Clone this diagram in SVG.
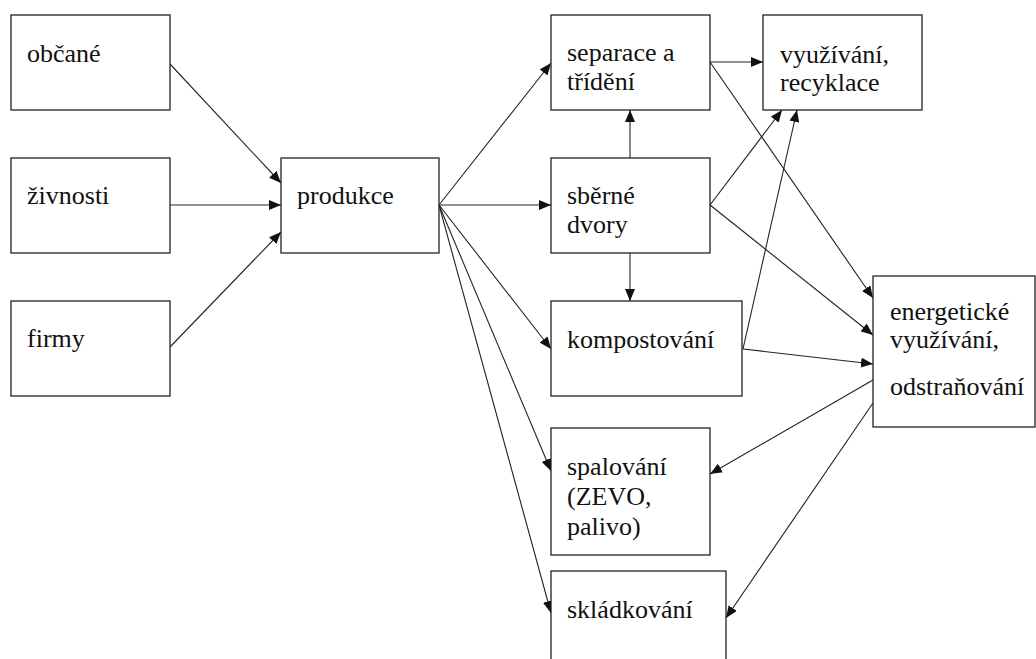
<svg xmlns="http://www.w3.org/2000/svg" width="1036" height="659" viewBox="0 0 1036 659">
<style>
.box{fill:#fff;stroke:#222;stroke-width:1.3}
.t{font-family:'Liberation Serif','Times New Roman',serif;font-size:26px;fill:#111}
.c{fill:none;stroke:#222;stroke-width:1.1;marker-end:url(#ah)}
</style>
<defs>
<marker id="ah" markerUnits="userSpaceOnUse" markerWidth="12" markerHeight="10" refX="12" refY="5" orient="auto">
<path d="M0,0 L12,5 L0,10 z" fill="#111"/>
</marker>
</defs>
<rect width="1036" height="659" fill="#fff"/>
<g id="connectors">
<line class="c" x1="170" y1="64" x2="281" y2="183"/>
<line class="c" x1="170" y1="205" x2="281" y2="205"/>
<line class="c" x1="170" y1="347" x2="281" y2="232"/>
<line class="c" x1="439" y1="205" x2="551" y2="63"/>
<line class="c" x1="439" y1="205" x2="551" y2="205"/>
<line class="c" x1="439" y1="205" x2="551" y2="349"/>
<line class="c" x1="439" y1="205" x2="551" y2="471"/>
<line class="c" x1="439" y1="205" x2="551" y2="613"/>
<line class="c" x1="630" y1="158" x2="630" y2="110"/>
<line class="c" x1="630" y1="253" x2="630" y2="301"/>
<line class="c" x1="710" y1="62" x2="763" y2="62"/>
<line class="c" x1="710" y1="62" x2="873" y2="298"/>
<line class="c" x1="710" y1="205" x2="782" y2="110"/>
<line class="c" x1="710" y1="205" x2="873" y2="335"/>
<line class="c" x1="743" y1="349" x2="797" y2="110"/>
<line class="c" x1="743" y1="349" x2="873" y2="364"/>
<line class="c" x1="873" y1="380" x2="710" y2="474"/>
<line class="c" x1="873" y1="403" x2="726" y2="618"/>
</g>
<g id="obcane"><rect class="box" x="11" y="15" width="159" height="95"/><text class="t" x="27" y="62">občané</text></g>
<g id="zivnosti"><rect class="box" x="11" y="158" width="159" height="95"/><text class="t" x="27" y="204">živnosti</text></g>
<g id="firmy"><rect class="box" x="11" y="301" width="159" height="95"/><text class="t" x="27" y="347">firmy</text></g>
<g id="produkce"><rect class="box" x="281" y="158" width="158" height="95"/><text class="t" x="297" y="204">produkce</text></g>
<g id="separace"><rect class="box" x="551" y="15" width="159" height="95"/><text class="t" x="567" y="61">separace a</text><text class="t" x="567" y="90">třídění</text></g>
<g id="sberne"><rect class="box" x="551" y="158" width="159" height="95"/><text class="t" x="567" y="204">sběrné</text><text class="t" x="567" y="233">dvory</text></g>
<g id="kompostovani"><rect class="box" x="551" y="301" width="191" height="95"/><text class="t" x="567" y="348">kompostování</text></g>
<g id="spalovani"><rect class="box" x="551" y="428" width="159" height="127"/><text class="t" x="567" y="475">spalování</text><text class="t" x="567" y="505">(ZEVO,</text><text class="t" x="567" y="535">palivo)</text></g>
<g id="skladkovani"><rect class="box" x="551" y="571" width="175" height="95"/><text class="t" x="567" y="618">skládkování</text></g>
<g id="vyuzivani"><rect class="box" x="763" y="15" width="159" height="95"/><text class="t" x="780" y="63">využívání,</text><text class="t" x="780" y="91">recyklace</text></g>
<g id="energeticke"><rect class="box" x="873" y="276" width="162" height="151"/><text class="t" x="890" y="320">energetické</text><text class="t" x="890" y="348">využívání,</text><text class="t" x="890" y="395">odstraňování</text></g>
</svg>
